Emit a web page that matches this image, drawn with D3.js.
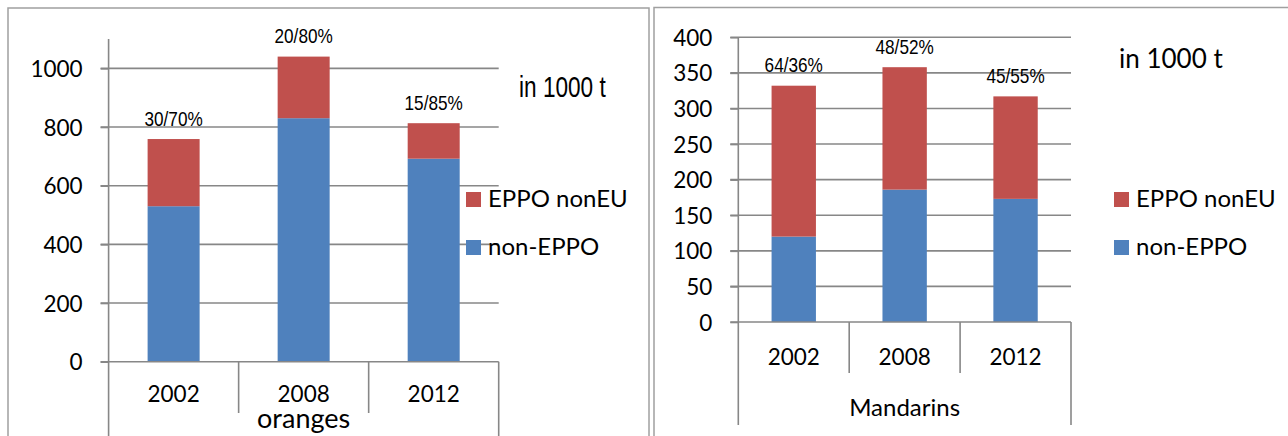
<!DOCTYPE html>
<html><head><meta charset="utf-8">
<script src="https://cdn.jsdelivr.net/npm/d3@7"></script>
<style>
html,body{margin:0;padding:0;background:#fff;}
svg{display:block;}
</style></head>
<body>
<svg id="c" width="1288" height="436"></svg>
<script>
// ---- data ----
const years = ["2002", "2008", "2012"];
const seriesNames = ["non-EPPO", "EPPO nonEU"];
const orangesNonEPPO = [530, 830, 692];
const orangesEPPOnonEU = [229, 210, 121];
const orangesShares = ["30/70%", "20/80%", "15/85%"];
const orangesTicks = [0, 200, 400, 600, 800, 1000];
const mandarinsNonEPPO = [120, 186, 173];
const mandarinsEPPOnonEU = [212, 172, 144];
const mandarinsShares = ["64/36%", "48/52%", "45/55%"];
const mandarinsTicks = [0, 50, 100, 150, 200, 250, 300, 350, 400];
const unitLabel = "in 1000 t";

const colors = {"non-EPPO": "#4F81BD", "EPPO nonEU": "#C0504D"};
const gridColor = "#878787";
const svg = d3.select("#c");

// panel frames
svg.append("rect").attr("x", 8).attr("y", 8).attr("width", 641).attr("height", 440)
  .attr("fill", "none").attr("stroke", "#a0a0a0").attr("stroke-width", 1.5);
svg.append("rect").attr("x", 654).attr("y", 7.5).attr("width", 650).attr("height", 440)
  .attr("fill", "none").attr("stroke", "#a0a0a0").attr("stroke-width", 1.5);

function drawPanel(o) {
  const g = svg.append("g");
  const rows = years.map((y, i) => ({year: y, "non-EPPO": o.nonEPPO[i], "EPPO nonEU": o.eppo[i], share: o.shares[i]}));
  const stack = d3.stack().keys(seriesNames)(rows);
  const y = d3.scaleLinear().domain([0, o.max]).range([o.y0, o.yTop]);
  const x = d3.scaleBand().domain(years).range([o.x0, o.x1]).padding(0);
  const bw = x.bandwidth() * 0.4;

  // gridlines
  g.selectAll(".grid").data(o.ticks.filter(t => t > 0)).join("line")
    .attr("x1", o.x0 - 8).attr("x2", o.x1)
    .attr("y1", d => y(d)).attr("y2", d => y(d))
    .attr("stroke", gridColor).attr("stroke-width", 1.6);

  // bars
  stack.forEach(s => {
    g.selectAll(null).data(s).join("rect")
      .attr("x", d => x(d.data.year) + x.bandwidth() * 0.3)
      .attr("width", bw)
      .attr("y", d => y(d[1]))
      .attr("height", d => y(d[0]) - y(d[1]))
      .attr("fill", colors[s.key]);
  });

  // y axis
  const ya = d3.axisLeft(y).tickValues(o.ticks).tickSize(8).tickPadding(18).tickFormat(d3.format("d"));
  const yg = g.append("g").attr("transform", `translate(${o.x0},0)`).call(ya);
  yg.select(".domain").remove();
  yg.selectAll(".tick line").attr("stroke", gridColor).attr("stroke-width", 1.6);
  yg.selectAll(".tick text").attr("font-family", "Lato").attr("font-size", 22.5).attr("fill", "#000").attr("dy", "0.36em");
  g.append("line").attr("x1", o.x0).attr("x2", o.x0).attr("y1", y(o.max)).attr("y2", o.outerBottom)
    .attr("stroke", gridColor).attr("stroke-width", 1.6);

  // x axis line + category separators
  g.append("line").attr("x1", o.x0 - 8).attr("x2", o.x1).attr("y1", o.y0).attr("y2", o.y0)
    .attr("stroke", gridColor).attr("stroke-width", 1.6);
  g.selectAll(null).data(years.slice(1)).join("line")
    .attr("x1", d => x(d)).attr("x2", d => x(d))
    .attr("y1", o.y0).attr("y2", o.innerBottom)
    .attr("stroke", gridColor).attr("stroke-width", 1.6);
  g.append("line").attr("x1", o.x1).attr("x2", o.x1).attr("y1", o.y0).attr("y2", o.outerBottom)
    .attr("stroke", gridColor).attr("stroke-width", 1.6);

  // year labels
  g.selectAll(null).data(years).join("text")
    .attr("x", d => x(d) + x.bandwidth() / 2).attr("y", o.yearBaseline)
    .attr("text-anchor", "middle").attr("font-family", "Lato").attr("font-size", 22.5).text(d => d);
  // category name
  g.append("text").attr("x", (o.x0 + o.x1) / 2).attr("y", o.nameBaseline)
    .attr("text-anchor", "middle").attr("font-family", "Lato").attr("font-size", o.nameSize).text(o.name);

  // share labels
  g.selectAll(null).data(rows).join("text")
    .attr("transform", d => `translate(${x(d.year) + x.bandwidth() / 2},${y(d["non-EPPO"] + d["EPPO nonEU"]) - 13.5}) scale(0.86,1)`)
    .attr("text-anchor", "middle").attr("font-family", "Liberation Sans, Arial, sans-serif")
    .attr("font-size", 20).text(d => d.share);

  // unit label
  if (o.unitNarrow) {
    g.append("text").attr("transform", `translate(${o.unitX},${o.unitY}) scale(0.78,1)`)
      .attr("font-family", "Liberation Sans, Arial, sans-serif").attr("font-size", 29).text(unitLabel);
  } else {
    g.append("text").attr("x", o.unitX).attr("y", o.unitY)
      .attr("font-family", "Lato").attr("font-size", 26).text(unitLabel);
  }

  // legend (EPPO nonEU on top)
  const legend = ["EPPO nonEU", "non-EPPO"];
  legend.forEach((k, i) => {
    const ly = o.legY + i * 48;
    g.append("rect").attr("x", o.legX).attr("y", ly).attr("width", 15).attr("height", 15).attr("fill", colors[k]);
    g.append("text").attr("x", o.legX + 22).attr("y", ly + 15).attr("font-family", "Lato").attr("font-size", 24).text(k);
  });
}

drawPanel({
  nonEPPO: orangesNonEPPO, eppo: orangesEPPOnonEU, shares: orangesShares, ticks: orangesTicks,
  max: 1100, y0: 361.7, yTop: 39, x0: 108.6, x1: 498.7,
  innerBottom: 413, outerBottom: 440, yearBaseline: 402, nameBaseline: 428, name: "oranges", nameSize: 27,
  unitNarrow: true, unitX: 519, unitY: 97,
  legX: 466, legY: 192
});

drawPanel({
  nonEPPO: mandarinsNonEPPO, eppo: mandarinsEPPOnonEU, shares: mandarinsShares, ticks: mandarinsTicks,
  max: 400, y0: 322, yTop: 37.3, x0: 738.3, x1: 1071,
  innerBottom: 373, outerBottom: 425, yearBaseline: 365, nameBaseline: 416, name: "Mandarins", nameSize: 24,
  unitNarrow: false, unitX: 1119, unitY: 68,
  legX: 1114, legY: 192
});
</script>
</body></html>
